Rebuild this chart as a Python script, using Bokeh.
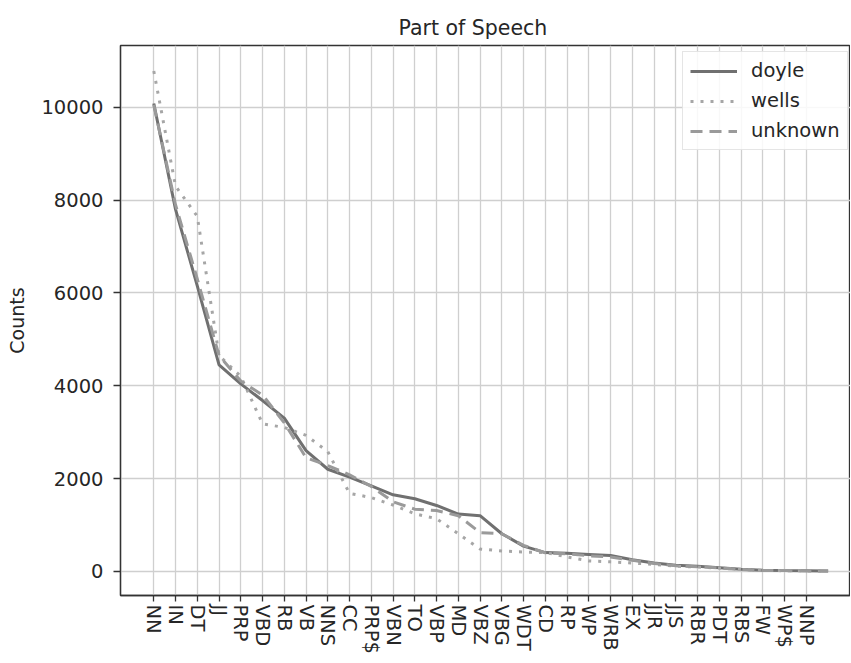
from bokeh.plotting import figure
from bokeh.models import Range1d, FixedTicker
from bokeh.embed import file_html
from bokeh.resources import INLINE

categories = ["NN", "IN", "DT", "JJ", "PRP", "VBD", "RB", "VB", "NNS", "CC", "PRP$",
              "VBN", "TO", "VBP", "MD", "VBZ", "VBG", "WDT", "CD", "RP", "WP", "WRB",
              "EX", "JJR", "JJS", "RBR", "PDT", "RBS", "FW", "WP$", "NNP"]

# 32 points per series (the last one is plotted but has no tick label in the original)
doyle = [10080, 7800, 6150, 4450, 4040, 3680, 3300, 2600, 2200, 2030, 1840,
         1650, 1565, 1420, 1235, 1200, 810, 545, 405, 390, 366, 340,
         252, 178, 130, 108, 80, 45, 22, 18, 15, 10]
wells = [10780, 8300, 7650, 4650, 4200, 3180, 3100, 2930, 2580, 1680, 1590,
         1430, 1240, 1135, 810, 480, 440, 415, 405, 310, 225, 205,
         180, 150, 110, 95, 70, 40, 20, 15, 10, 8]
unknown = [10050, 7900, 6300, 4650, 4100, 3800, 3200, 2450, 2280, 2080, 1830,
           1500, 1340, 1310, 1200, 835, 810, 560, 400, 380, 335, 310,
           240, 170, 120, 100, 75, 40, 20, 17, 12, 9]
y_ticks = [0, 2000, 4000, 6000, 8000, 10000]

x = list(range(len(doyle)))
FONT = "DejaVu Sans"
TXT = "#262626"

p = figure(frame_width=730, frame_height=550, output_backend="svg", toolbar_location=None,
           x_range=Range1d(-1.53, 32.03), y_range=Range1d(-520, 11330),
           min_border_left=120, min_border_right=0, min_border_top=45, min_border_bottom=10,
           title="Part of Speech", background_fill_color="white", border_fill_color="white")

p.title.text_font = FONT
p.title.text_font_size = "20.5px"
p.title.text_font_style = "normal"
p.title.text_color = TXT
p.title.align = "left"
p.title.offset = 278
p.title.standoff = 11

p.xaxis.ticker = FixedTicker(ticks=list(range(len(categories))))
p.xaxis.major_label_overrides = {i: c for i, c in enumerate(categories)}
p.xaxis.major_label_orientation = "vertical"
p.yaxis.ticker = FixedTicker(ticks=y_ticks)
p.yaxis.axis_label = "Counts"
p.yaxis.axis_label_text_font = FONT
p.yaxis.axis_label_text_font_size = "19px"
p.yaxis.axis_label_text_font_style = "normal"
p.yaxis.axis_label_text_color = TXT
p.yaxis.axis_label_standoff = 10

for ax in (p.xaxis, p.yaxis):
    ax.major_label_text_font = FONT
    ax.major_label_text_font_size = "19.5px"
    ax.major_label_text_color = TXT
    ax.minor_tick_line_color = None
    ax.major_tick_in = 0
    ax.major_tick_line_color = "#333333"
    ax.major_tick_line_width = 1.3
    ax.axis_line_color = "#333333"
    ax.axis_line_width = 1.3
p.xaxis.major_tick_out = 6
p.xaxis.major_label_standoff = 3
p.yaxis.major_tick_out = 7
p.yaxis.major_label_standoff = 10

p.outline_line_color = "#333333"
p.outline_line_width = 1.3
p.grid.grid_line_color = "#cfcfcf"
p.grid.grid_line_width = 1.3

p.line(x, doyle, color="#707070", line_width=3, legend_label="doyle")
p.line(x, wells, color="#a6a6a6", line_width=3, line_dash="3 7", legend_label="wells")
p.line(x, unknown, color="#9a9a9a", line_width=3, line_dash="12 7", legend_label="unknown")

lg = p.legend[0]
lg.location = (562, 445)
lg.label_text_font = FONT
lg.label_text_font_size = "19.5px"
lg.label_text_color = TXT
lg.glyph_width = 47
lg.glyph_height = 22
lg.label_height = 22
lg.label_standoff = 14
lg.spacing = 7
lg.padding = 7
lg.margin = 0
lg.border_line_color = "#cccccc"
lg.border_line_width = 1
lg.background_fill_alpha = 0.85

open("out.html", "w").write(file_html(p, INLINE))
